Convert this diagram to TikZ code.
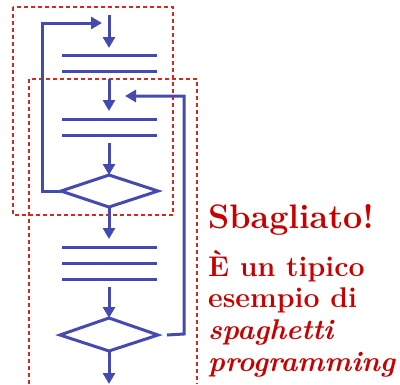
\documentclass[tikz,border=0pt]{standalone}
\usepackage{fontspec}
\usetikzlibrary{arrows.meta}
\definecolor{fblue}{RGB}{68,74,176}
\definecolor{dred}{RGB}{215,40,30}
\definecolor{tred}{RGB}{200,0,0}
\tikzset{
  flow/.style={draw=fblue,line width=3pt},
  arr/.style={flow,-{Triangle[length=11pt,width=12pt]}},
  dframe/.style={draw=dred,line width=1.2pt,dash pattern=on 4pt off 3pt},
  dia/.style={flow,line join=miter},
  txt/.style={text=tred,anchor=base west,inner sep=0pt},
  bigtxt/.style={txt,font=\fontsize{34}{40}\selectfont\bfseries},
  bodytxt/.style={txt,font=\fontsize{28.5}{32}\selectfont\bfseries},
  itxt/.style={txt,font=\fontsize{28.5}{32}\selectfont\bfseries\itshape}
}
\begin{document}
\begin{tikzpicture}[x=1pt,y=-1pt]
\useasboundingbox (0,0) rectangle (400,384);
% frames
\draw[dframe] (13,7) rectangle (173,215);
\draw[dframe] (29,384) -- (29,79) -- (197,79) -- (197,384);
% coordinates
\coordinate (s0) at (109,15);
\coordinate (t1) at (109,48);
\coordinate (b1a) at (109,79);
\coordinate (t2) at (109,111);
\coordinate (b2a) at (109,143);
\coordinate (d1t) at (109,175);
\coordinate (d1b) at (109,207);
\coordinate (d1l) at (61,191);
\coordinate (d1r) at (158,191);
\coordinate (t3) at (109,239);
\coordinate (b3a) at (109,287);
\coordinate (d2t) at (109,318);
\coordinate (d2b) at (109,351);
\coordinate (d2l) at (60,335);
\coordinate (d2r) at (158,335);
\coordinate (endp) at (109,384);
\coordinate (lt) at (102,23);
\coordinate (rt) at (125,96);
\coordinate (rs) at (167,335);
% process bars
\draw[flow] (62,55) -- (157,55) (62,71) -- (157,71);
\draw[flow] (62,119) -- (157,119) (62,135) -- (157,135);
\draw[flow] (62,247) -- (157,247) (62,263) -- (157,263) (62,279) -- (157,279);
% diamonds
\draw[dia] (d1t) -- (d1r) -- (d1b) -- (d1l) -- cycle;
\draw[dia] (d2t) -- (d2r) -- (d2b) -- (d2l) -- cycle;
% arrows
\draw[arr] (s0) -- (t1);
\draw[arr] (b1a) -- (t2);
\draw[arr] (b2a) -- (d1t);
\draw[arr] (d1b) -- (t3);
\draw[arr] (b3a) -- (d2t);
\draw[arr] (d2b) -- (endp);
\draw[arr] (d1l) -- (42,191) -- (42,23) -- (lt);
\draw[arr] (rs) -- (184,334) -- (184,96) -- (rt);
% text
\node[bigtxt] (title) at (208,228) {Sbagliato!};
\node[bodytxt] (l1) at (208,276) {È un tipico};
\node[bodytxt] (l2) at (208,307) {esempio di};
\node[itxt] (l3) at (208,339) {spaghetti};
\node[itxt] (l4) at (208,371) {programming};
\end{tikzpicture}
\end{document}
